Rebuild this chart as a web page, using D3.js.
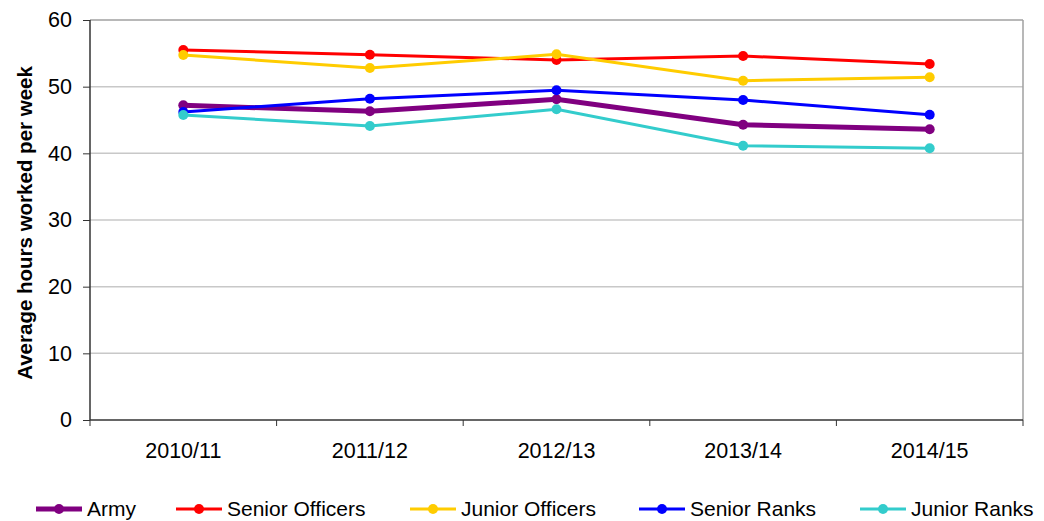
<!DOCTYPE html>
<html>
<head>
<meta charset="utf-8">
<script src="https://d3js.org/d3.v7.min.js"></script>
<style>
  body { margin: 0; background: #fff; }
  svg { font-family: "Liberation Sans", Arial, sans-serif; }
</style>
</head>
<body>
<div id="chart"></div>
<script>
// Data
var years = ["2010/11", "2011/12", "2012/13", "2013/14", "2014/15"];
var army = [47.2, 46.3, 48.1, 44.3, 43.6];
var seniorOfficers = [55.5, 54.8, 54.0, 54.6, 53.4];
var juniorOfficers = [54.75, 52.8, 54.85, 50.9, 51.4];
var seniorRanks = [46.2, 48.2, 49.45, 48.0, 45.8];
var juniorRanks = [45.75, 44.1, 46.6, 41.15, 40.75];
var yTicks = [0, 10, 20, 30, 40, 50, 60];

var series = [
  {name: "Army", values: army, color: "#800080", width: 5},
  {name: "Senior Officers", values: seniorOfficers, color: "#ff0000", width: 3},
  {name: "Junior Officers", values: juniorOfficers, color: "#ffcc00", width: 3},
  {name: "Senior Ranks", values: seniorRanks, color: "#0000ff", width: 3},
  {name: "Junior Ranks", values: juniorRanks, color: "#33cccc", width: 3}
];

// Canvas
const W = 1044, H = 521;
const margin = {top: 20, right: 21, bottom: 101, left: 90},
    width = W - margin.left - margin.right,
    height = H - margin.top - margin.bottom;

var svg = d3.select("#chart").append("svg")
    .attr("width", W)
    .attr("height", H);

var g = svg.append("g")
    .attr("transform", "translate(" + margin.left + "," + margin.top + ")");

// Scales
var x = d3.scaleBand().domain(years).range([0, width]);
var y = d3.scaleLinear().domain([0, 60]).range([height, 0]);

// Gridlines
g.selectAll(".grid")
    .data(yTicks.filter(function(d) { return d > 0; }))
  .enter().append("line")
    .attr("x1", 0).attr("x2", width)
    .attr("y1", function(d) { return y(d); })
    .attr("y2", function(d) { return y(d); })
    .attr("stroke", function(d) { return d == 60 ? "#a0a0a0" : "#c8c8c8"; })
    .attr("stroke-width", 1.5);

// right border
g.append("line")
    .attr("x1", width).attr("x2", width)
    .attr("y1", 0).attr("y2", height)
    .attr("stroke", "#a0a0a0").attr("stroke-width", 1.5);

// Axes
var yAxis = g.append("g")
    .call(d3.axisLeft(y).tickValues(yTicks).tickSize(7).tickPadding(11));
var xTickPos = d3.range(years.length + 1).map(function(i) { return i * x.bandwidth(); });
var xAxis = g.append("g")
    .attr("transform", "translate(0," + height + ")")
    .call(d3.axisBottom(x).tickSize(0).tickPadding(23));

xAxis.selectAll(".tick-mark")
    .data(xTickPos)
  .enter().append("line")
    .attr("x1", function(d) { return d; }).attr("x2", function(d) { return d; })
    .attr("y1", 0).attr("y2", 6)
    .attr("stroke", "#333");

[yAxis, xAxis].forEach(function(a) {
  a.select(".domain").attr("stroke", "#333").attr("stroke-width", 1.5);
  a.selectAll(".tick line").attr("stroke", "#333");
  a.selectAll("text").attr("fill", "#000").style("font-size", "21.5px")
    .style("font-family", "'Liberation Sans', Arial, sans-serif");
});
xAxis.select(".domain").attr("d", "M0,0H" + width);
yAxis.select(".domain").attr("d", "M0,0V" + height);

// Y label
svg.append("text")
    .attr("transform", "translate(32," + (margin.top + height / 2 + 3) + ")rotate(-90)")
    .attr("text-anchor", "middle")
    .style("font-size", "20.5px")
    .style("font-weight", "bold")
    .text("Average hours worked per week");

// Lines
var line = d3.line()
    .x(function(d, i) { return x(years[i]) + x.bandwidth() / 2; })
    .y(function(d) { return y(d); });

series.forEach(function(s) {
  g.append("path")
      .datum(s.values)
      .attr("fill", "none")
      .attr("stroke", s.color)
      .attr("stroke-width", s.width)
      .attr("d", line);
  g.selectAll(null)
      .data(s.values)
    .enter().append("circle")
      .attr("cx", function(d, i) { return x(years[i]) + x.bandwidth() / 2; })
      .attr("cy", function(d) { return y(d); })
      .attr("r", 5)
      .attr("fill", s.color);
});

// Legend
var legendX = [36, 176, 410, 639, 860];
var legend = svg.append("g").attr("transform", "translate(0,509)");
series.forEach(function(s, i) {
  var lg = legend.append("g").attr("transform", "translate(" + legendX[i] + ",0)");
  lg.append("line").attr("x1", 0).attr("x2", 46).attr("y1", 0).attr("y2", 0)
    .attr("stroke", s.color).attr("stroke-width", s.width);
  lg.append("circle").attr("cx", 23).attr("cy", 0).attr("r", 5).attr("fill", s.color);
  lg.append("text").attr("x", 51).attr("y", 6.5)
    .style("font-size", "21px").text(s.name);
});
</script>
</body>
</html>
